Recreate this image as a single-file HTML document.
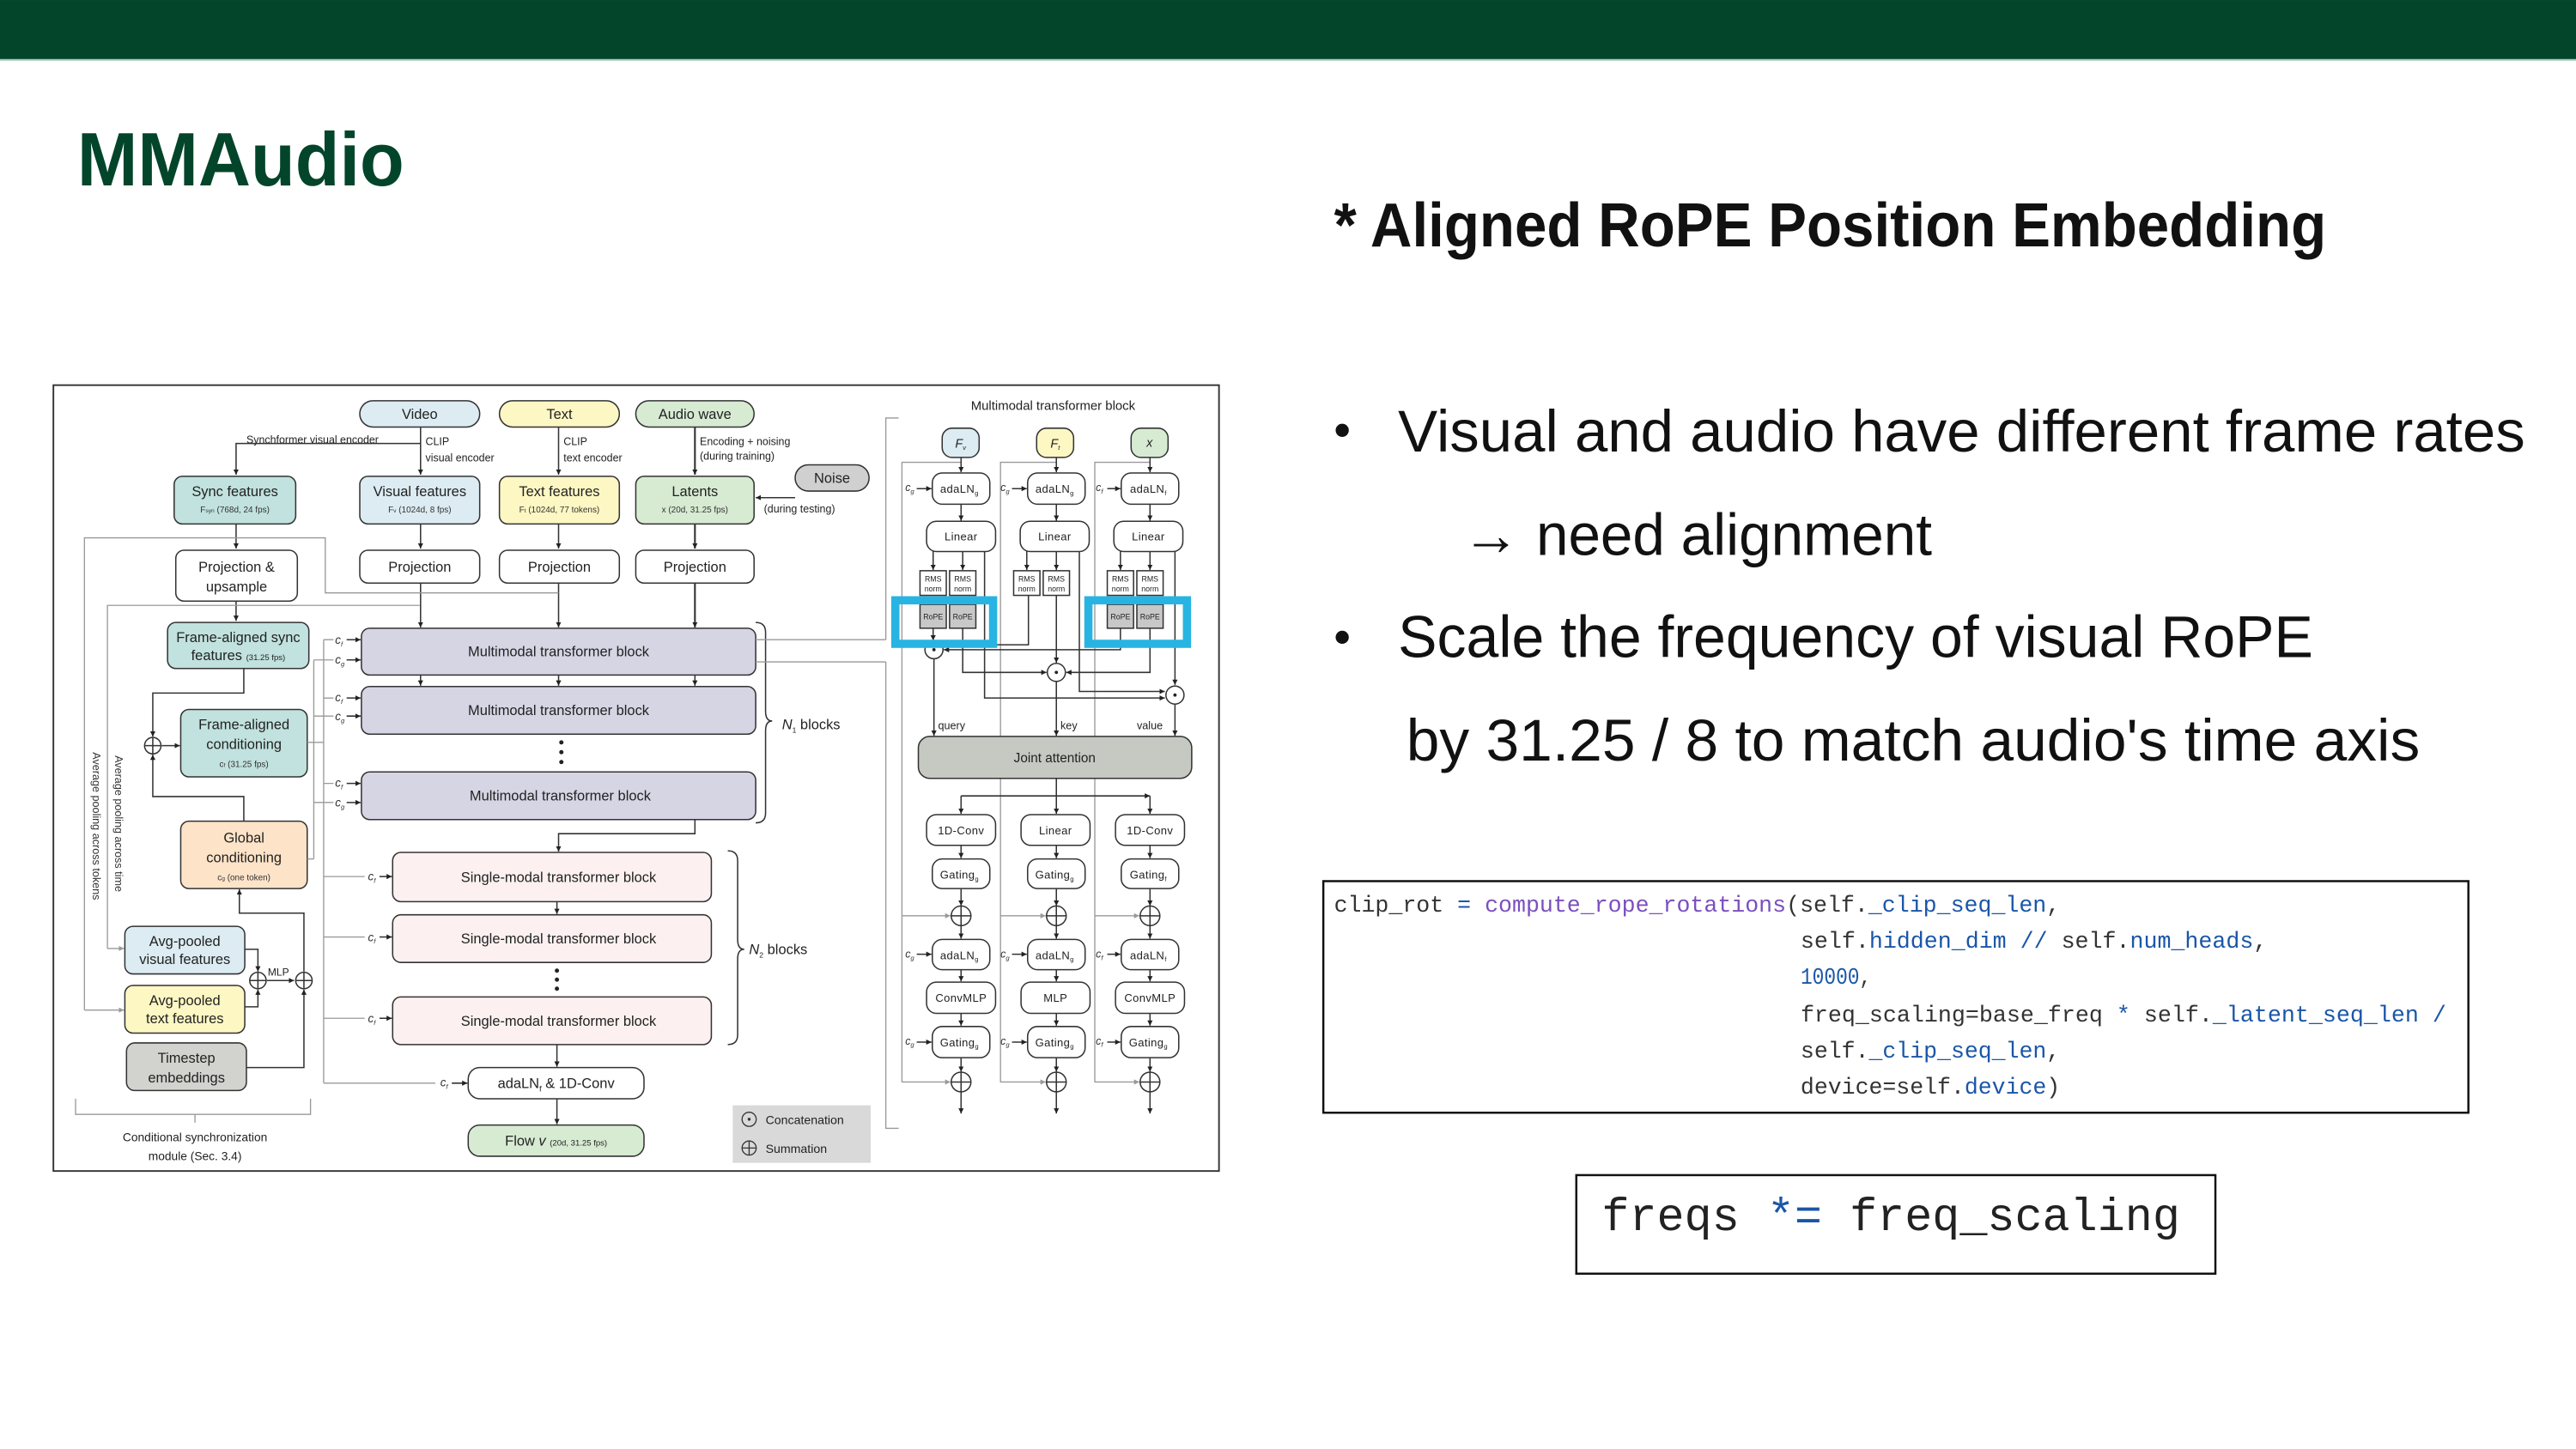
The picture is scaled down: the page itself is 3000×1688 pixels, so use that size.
<!DOCTYPE html>
<html><head><meta charset="utf-8"><style>
html,body{margin:0;padding:0;background:#fff;width:3000px;height:1688px;overflow:hidden}
svg{display:block}
text{font-family:"Liberation Sans",sans-serif}
.b{fill:none;stroke:#333;stroke-width:0.8}
.k{stroke:#333;stroke-width:0.8}
.g{fill:none;stroke:#999;stroke-width:0.7}
.t{font-size:8.6px;fill:#222;text-anchor:middle}
.s{font-size:5.2px;fill:#333;text-anchor:middle}
.r{font-size:6.8px;fill:#222;text-anchor:middle;letter-spacing:0.2px}
.m,.m text{font-family:"Liberation Mono",monospace}
</style></head><body>
<svg width="3000" height="1688" viewBox="0 0 1568 882.25" xmlns="http://www.w3.org/2000/svg">
<defs>
<marker id="a" viewBox="0 0 6 6" refX="6" refY="3" markerWidth="3.2" markerHeight="3.2" markerUnits="userSpaceOnUse" orient="auto"><path d="M0,0L6,3L0,6z" fill="#222"/></marker>
<marker id="ag" viewBox="0 0 6 6" refX="6" refY="3" markerWidth="3.2" markerHeight="3.2" markerUnits="userSpaceOnUse" orient="auto"><path d="M0,0L6,3L0,6z" fill="#999"/></marker>
</defs>
<rect x="0" y="0" width="1568" height="36" fill="#03452b"/>
<rect x="0" y="36" width="1568" height="1" fill="#a9cfc0"/>
<text x="47" y="113" font-size="46" font-weight="bold" fill="#03452b" textLength="199" lengthAdjust="spacingAndGlyphs">MMAudio</text>
<text x="812" y="150" font-size="38" font-weight="bold" fill="#111" textLength="604" lengthAdjust="spacingAndGlyphs">* Aligned RoPE Position Embedding</text>

<circle cx="817" cy="262" r="4" fill="#111"/>
<text x="851" y="275" font-size="36" fill="#111" textLength="686" lengthAdjust="spacingAndGlyphs">Visual and audio have different frame rates</text>
<text x="890" y="338" font-size="36" fill="#111" textLength="286" lengthAdjust="spacingAndGlyphs">→ need alignment</text>
<circle cx="817" cy="388" r="4" fill="#111"/>
<text x="851" y="400" font-size="36" fill="#111" textLength="557" lengthAdjust="spacingAndGlyphs">Scale the frequency of visual RoPE</text>
<text x="856" y="463" font-size="36" fill="#111" textLength="617" lengthAdjust="spacingAndGlyphs">by 31.25 / 8 to match audio's time axis</text>

<rect x="805.5" y="536.5" width="697" height="141" fill="#fff" stroke="#111" stroke-width="1.3"/>
<g class="m" font-size="14" fill="#333">
<text x="812" y="555" textLength="442" lengthAdjust="spacingAndGlyphs">clip_rot <tspan fill="#1a56a8">=</tspan> <tspan fill="#7b4fbf">compute_rope_rotations</tspan>(self.<tspan fill="#1a56a8">_clip_seq_len</tspan>,</text>
<text x="1096" y="577" textLength="284" lengthAdjust="spacingAndGlyphs">self.<tspan fill="#1a56a8">hidden_dim</tspan> <tspan fill="#1a56a8">//</tspan> self.<tspan fill="#1a56a8">num_heads</tspan>,</text>
<text x="1096" y="599" textLength="43" lengthAdjust="spacingAndGlyphs"><tspan fill="#1a56a8">10000</tspan>,</text>
<text x="1096" y="622" textLength="393" lengthAdjust="spacingAndGlyphs">freq_scaling=base_freq <tspan fill="#1a56a8">*</tspan> self.<tspan fill="#1a56a8">_latent_seq_len</tspan> <tspan fill="#1a56a8">/</tspan></text>
<text x="1096" y="644" textLength="158" lengthAdjust="spacingAndGlyphs">self.<tspan fill="#1a56a8">_clip_seq_len</tspan>,</text>
<text x="1096" y="666" textLength="158" lengthAdjust="spacingAndGlyphs">device=self.<tspan fill="#1a56a8">device</tspan>)</text>
</g>
<rect x="959.5" y="715.5" width="389" height="60" fill="#fff" stroke="#111" stroke-width="1.3"/>
<text class="m" x="975" y="749" font-size="28" fill="#222" textLength="352" lengthAdjust="spacingAndGlyphs">freqs <tspan fill="#1a56a8">*=</tspan> freq_scaling</text>

<!-- diagram -->
<rect x="32.5" y="234.5" width="709.5" height="478.5" fill="#fff" stroke="#333" stroke-width="1"/>

<rect x="219" y="244" width="73" height="16" rx="8" fill="#dcecf2" class="k"/><text class="t" x="255.5" y="255">Video</text>
<rect x="304" y="244" width="73" height="16" rx="8" fill="#fdf7c3" class="k"/><text class="t" x="340.5" y="255">Text</text>
<rect x="387" y="244" width="72" height="16" rx="8" fill="#d7ebd3" class="k"/><text class="t" x="423" y="255">Audio wave</text>
<rect x="484" y="283" width="45" height="16" rx="8" fill="#d0d0d0" class="k"/><text class="t" x="506.5" y="294">Noise</text>

<text x="150" y="270" font-size="6.5" fill="#222">Synchformer visual encoder</text>
<text x="259" y="271" font-size="6.5" fill="#222">CLIP</text><text x="259" y="281" font-size="6.5" fill="#222">visual encoder</text>
<text x="343" y="271" font-size="6.5" fill="#222">CLIP</text><text x="343" y="281" font-size="6.5" fill="#222">text encoder</text>
<text x="426" y="271" font-size="6.5" fill="#222">Encoding + noising</text><text x="426" y="280" font-size="6.5" fill="#222">(during training)</text>
<text x="465" y="312" font-size="6.5" fill="#222">(during testing)</text>

<rect x="106" y="290" width="74" height="29" rx="5" fill="#c1e2de" class="k"/><text class="t" x="143" y="302">Sync features</text><text class="s" x="143" y="312">F<tspan font-size="3.5">syn</tspan> (768d, 24 fps)</text>
<rect x="219" y="290" width="73" height="29" rx="5" fill="#dcecf2" class="k"/><text class="t" x="255.5" y="302">Visual features</text><text class="s" x="255.5" y="312">F<tspan font-size="3.5">v</tspan> (1024d, 8 fps)</text>
<rect x="304" y="290" width="73" height="29" rx="5" fill="#fdf7c3" class="k"/><text class="t" x="340.5" y="302">Text features</text><text class="s" x="340.5" y="312">F<tspan font-size="3.5">t</tspan> (1024d, 77 tokens)</text>
<rect x="387" y="290" width="72" height="29" rx="5" fill="#d7ebd3" class="k"/><text class="t" x="423" y="302">Latents</text><text class="s" x="423" y="312">x (20d, 31.25 fps)</text>

<rect x="107" y="335" width="74" height="31" rx="5" fill="#fff" class="k"/><text class="t" x="144" y="348">Projection &amp;</text><text class="t" x="144" y="360">upsample</text>
<rect x="219" y="335" width="73" height="20" rx="5" fill="#fff" class="k"/><text class="t" x="255.5" y="348">Projection</text>
<rect x="304" y="335" width="73" height="20" rx="5" fill="#fff" class="k"/><text class="t" x="340.5" y="348">Projection</text>
<rect x="387" y="335" width="72" height="20" rx="5" fill="#fff" class="k"/><text class="t" x="423" y="348">Projection</text>

<rect x="102" y="379" width="86" height="28" rx="5" fill="#c1e2de" class="k"/><text class="t" x="145" y="391">Frame-aligned sync</text><text class="t" x="145" y="402">features <tspan font-size="5">(31.25 fps)</tspan></text>
<rect x="110" y="432" width="77" height="41" rx="5" fill="#c1e2de" class="k"/><text class="t" x="148.5" y="444">Frame-aligned</text><text class="t" x="148.5" y="456">conditioning</text><text class="s" x="148.5" y="467">c<tspan font-size="3.5">f</tspan> (31.25 fps)</text>
<rect x="110" y="500" width="77" height="41" rx="5" fill="#fde3c8" class="k"/><text class="t" x="148.5" y="513">Global</text><text class="t" x="148.5" y="525">conditioning</text><text class="s" x="148.5" y="536">c<tspan font-size="3.5">g</tspan> (one token)</text>
<rect x="76" y="564" width="73" height="29" rx="5" fill="#dcecf2" class="k"/><text class="t" x="112.5" y="576">Avg-pooled</text><text class="t" x="112.5" y="587">visual features</text>
<rect x="76" y="600" width="73" height="29" rx="5" fill="#fdf7c3" class="k"/><text class="t" x="112.5" y="612">Avg-pooled</text><text class="t" x="112.5" y="623">text features</text>
<rect x="77" y="635" width="73" height="29" rx="5" fill="#d2d2cf" class="k"/><text class="t" x="113.5" y="647">Timestep</text><text class="t" x="113.5" y="659">embeddings</text>

<rect x="220" y="382.5" width="240" height="28.5" rx="5" fill="#d6d5e4" class="k"/><text class="t" x="340" y="399.5">Multimodal transformer block</text>
<rect x="220" y="418" width="240" height="29" rx="5" fill="#d6d5e4" class="k"/><text class="t" x="340" y="435.5">Multimodal transformer block</text>
<rect x="220" y="470" width="240" height="29" rx="5" fill="#d6d5e4" class="k"/><text class="t" x="341" y="487.5">Multimodal transformer block</text>
<circle cx="341.7" cy="452" r="1.3" fill="#222"/><circle cx="341.7" cy="458" r="1.3" fill="#222"/><circle cx="341.7" cy="464" r="1.3" fill="#222"/>
<rect x="239" y="519" width="194" height="30" rx="5" fill="#fcf0f0" class="k"/><text class="t" x="340" y="537">Single-modal transformer block</text>
<rect x="239" y="557" width="194" height="29" rx="5" fill="#fcf0f0" class="k"/><text class="t" x="340" y="574.5">Single-modal transformer block</text>
<rect x="239" y="607" width="194" height="29" rx="5" fill="#fcf0f0" class="k"/><text class="t" x="340" y="624.5">Single-modal transformer block</text>
<circle cx="339" cy="591" r="1.3" fill="#222"/><circle cx="339" cy="596.5" r="1.3" fill="#222"/><circle cx="339" cy="602" r="1.3" fill="#222"/>
<rect x="285" y="650" width="107" height="19" rx="7" fill="#fff" class="k"/><text class="t" x="338.5" y="662.5">adaLN<tspan font-size="5" dy="2">f</tspan><tspan dy="-2"> &amp; 1D-Conv</tspan></text>
<rect x="285" y="685" width="107" height="19" rx="7" fill="#d7ebd3" class="k"/><text class="t" x="338.5" y="697.5">Flow <tspan font-style="italic">v</tspan> <tspan font-size="5">(20d, 31.25 fps)</tspan></text>

<path class="b" d="M460,379 q6,0 6,6 v48 q0,6 4,6 q-4,0 -4,6 v50 q0,6 -6,6"/>
<text x="476" y="444" font-size="8.6" fill="#222"><tspan font-style="italic">N</tspan><tspan font-size="4.5" dy="2">1</tspan><tspan dy="-2"> blocks</tspan></text>
<path class="b" d="M443,518 q6,0 6,6 v48 q0,6 4,6 q-4,0 -4,6 v46 q0,6 -6,6"/>
<text x="456" y="581" font-size="8.6" fill="#222"><tspan font-style="italic">N</tspan><tspan font-size="4.5" dy="2">2</tspan><tspan dy="-2"> blocks</tspan></text>

<g class="b" marker-end="url(#a)">
<path d="M256,260V289"/><path d="M256,270H143.7V289"/>
<path d="M340,260V289"/><path d="M423,260V289" stroke-width="1.1"/>
<path d="M484,303H460"/>
<path d="M143.7,319V334"/><path d="M256,319V334"/><path d="M340,319V334"/><path d="M423,319V334" stroke-width="1.1"/>
<path d="M143.7,366V378"/>
<path d="M256,355V382"/><path d="M340,355V382"/><path d="M423,355V382" stroke-width="1.1"/>
<path d="M256,411V417.5"/><path d="M340,411V417.5"/><path d="M423,411V417.5"/>
<path d="M423,499V507.6H340V518.5"/>
<path d="M339,549V556.5"/><path d="M339,636V649.5"/><path d="M339,669V684.5"/>
<path d="M148.4,407V422H93V448.5"/>
<path d="M148.4,500V485H93V459.5"/>
<path d="M98.5,454H109.5"/>
<path d="M149,578H157V591.5"/><path d="M149,613H157V602.5"/>
<path d="M162.5,597H179"/>
<path d="M150,650H185V602.5"/>
<path d="M185,591.5V556H145.7V541.5"/>
</g>
<circle cx="93" cy="454" r="5" fill="#fff" class="k"/><path class="b" d="M88,454h10M93,449v10"/>
<circle cx="157" cy="597" r="5" fill="#fff" class="k"/><path class="b" d="M152,597h10M157,592v10"/>
<circle cx="185" cy="597" r="5" fill="#fff" class="k"/><path class="b" d="M180,597h10M185,592v10"/>
<text x="163" y="594" font-size="6.3" fill="#222">MLP</text>

<g class="g">
<path d="M51.4,615V327.5H198V361H340"/><path d="M65.4,577.5V368.6H255.4"/>
<path d="M187,452H197"/><path d="M197,389.5V659.5"/>
<path d="M187,523H191"/><path d="M191,401.8V523"/>
<path d="M197,389.5H203M191,401.8H203M197,425H203M191,436H203M197,477H203M191,488.6H203"/>
<path d="M197,533.7H222M197,570.5H222M197,620H222M197,659.5H265"/>
<path d="M460,389.5H539.2M460,403H539.2"/>
<path d="M547,254.5H539.2V389.5M539.2,403V687H547"/>
<path d="M46,669v9.5h143v-9.5M118.7,678.5v5"/>
</g>
<g class="g" marker-end="url(#ag)"><path d="M51.4,615H75.5"/><path d="M65.4,577.5H75.5"/></g>
<g font-size="7" fill="#333" font-style="italic">
<text x="204" y="392">c<tspan font-size="4" dy="1.5">f</tspan></text><text x="204" y="404">c<tspan font-size="4" dy="1.5">g</tspan></text>
<text x="204" y="427">c<tspan font-size="4" dy="1.5">f</tspan></text><text x="204" y="438.5">c<tspan font-size="4" dy="1.5">g</tspan></text>
<text x="204" y="479">c<tspan font-size="4" dy="1.5">f</tspan></text><text x="204" y="491">c<tspan font-size="4" dy="1.5">g</tspan></text>
<text x="224" y="536">c<tspan font-size="4" dy="1.5">f</tspan></text><text x="224" y="573">c<tspan font-size="4" dy="1.5">f</tspan></text><text x="224" y="622.5">c<tspan font-size="4" dy="1.5">f</tspan></text>
<text x="268" y="661.5">c<tspan font-size="4" dy="1.5">f</tspan></text>
</g>
<g class="b" marker-end="url(#a)">
<path d="M211,389.5H219.5"/><path d="M211,401.8H219.5"/><path d="M211,425H219.5"/><path d="M211,436H219.5"/><path d="M211,477H219.5"/><path d="M211,488.6H219.5"/>
<path d="M231,533.7H238.5"/><path d="M231,570.5H238.5"/><path d="M231,620H238.5"/><path d="M275,659.5H284.5"/>
</g>
<text x="56.4" y="458" font-size="6.6" fill="#333" transform="rotate(90 56.4 458)">Average pooling across tokens</text>
<text x="70" y="460" font-size="6.6" fill="#333" transform="rotate(90 70 460)">Average pooling across time</text>
<text x="118.7" y="695" font-size="7.2" fill="#222" text-anchor="middle">Conditional synchronization</text>
<text x="118.7" y="706.5" font-size="7.2" fill="#222" text-anchor="middle">module (Sec. 3.4)</text>

<rect x="446" y="673" width="84" height="35" fill="#d9d9d9"/>
<circle cx="456" cy="681.5" r="4.3" fill="none" stroke="#333" stroke-width="0.7"/><circle cx="456" cy="681.5" r="0.9" fill="#333"/>
<text x="466" y="684.5" font-size="7.4" fill="#222">Concatenation</text>
<circle cx="456" cy="699" r="4.3" fill="none" stroke="#333" stroke-width="0.7"/><path d="M451.7,699h8.6M456,694.7v8.6" stroke="#333" stroke-width="0.7"/>
<text x="466" y="702" font-size="7.4" fill="#222">Summation</text>

<text x="641" y="249.5" font-size="7.8" fill="#222" text-anchor="middle">Multimodal transformer block</text>
<g class="g"><path d="M549,659V281.5H585"/><path d="M609,659V281.5H643"/><path d="M666.4,659V281.5H700"/></g>
<rect x="573.5" y="260.7" width="22.5" height="17.8" rx="6" fill="#dcecf2" class="k"/><text x="584.7" y="272.5" font-size="7.5" font-style="italic" text-anchor="middle" fill="#222">F<tspan font-size="4" dy="1.5">v</tspan></text>
<rect x="631" y="260.7" width="22.5" height="17.8" rx="6" fill="#fdf7c3" class="k"/><text x="642.3" y="272.5" font-size="7.5" font-style="italic" text-anchor="middle" fill="#222">F<tspan font-size="4" dy="1.5">t</tspan></text>
<rect x="688.5" y="260.7" width="22.5" height="17.8" rx="6" fill="#d7ebd3" class="k"/><text x="699.7" y="272" font-size="7.5" font-style="italic" text-anchor="middle" fill="#222">x</text>

<g fill="#fff" class="k">
<rect x="567.5" y="288" width="35" height="19" rx="6"/><rect x="625.5" y="288" width="35" height="19" rx="6"/><rect x="682.5" y="288" width="35" height="19" rx="6"/>
<rect x="564" y="317.4" width="42" height="18.4" rx="6"/><rect x="621" y="317.4" width="42" height="18.4" rx="6"/><rect x="678" y="317.4" width="42" height="18.4" rx="6"/>
<rect x="560" y="347.5" width="16" height="15"/><rect x="578" y="347.5" width="16" height="15"/>
<rect x="617" y="347.5" width="16" height="15"/><rect x="635" y="347.5" width="16" height="15"/>
<rect x="674" y="347.5" width="16" height="15"/><rect x="692" y="347.5" width="16" height="15"/>
<rect x="560" y="368" width="16" height="14.5" fill="#c8c8c8"/><rect x="578" y="368" width="16" height="14.5" fill="#c8c8c8"/>
<rect x="674" y="368" width="16" height="14.5" fill="#c8c8c8"/><rect x="692" y="368" width="16" height="14.5" fill="#c8c8c8"/>
<rect x="564" y="496" width="42" height="18.7" rx="6"/><rect x="621.5" y="496" width="42" height="18.7" rx="6"/><rect x="679" y="496" width="42" height="18.7" rx="6"/>
<rect x="567.5" y="523" width="35" height="18" rx="6"/><rect x="625.5" y="523" width="35" height="18" rx="6"/><rect x="682.5" y="523" width="35" height="18" rx="6"/>
<rect x="567.5" y="572" width="35" height="18.4" rx="6"/><rect x="625.5" y="572" width="35" height="18.4" rx="6"/><rect x="682.5" y="572" width="35" height="18.4" rx="6"/>
<rect x="564" y="598" width="42" height="19" rx="6"/><rect x="621.5" y="598" width="42" height="19" rx="6"/><rect x="679" y="598" width="42" height="19" rx="6"/>
<rect x="567.5" y="625" width="35" height="19" rx="6"/><rect x="625.5" y="625" width="35" height="19" rx="6"/><rect x="682.5" y="625" width="35" height="19" rx="6"/>
</g>
<g class="r">
<text x="584" y="300">adaLN<tspan font-size="4" dy="1.5">g</tspan></text><text x="642" y="300">adaLN<tspan font-size="4" dy="1.5">g</tspan></text><text x="699" y="300">adaLN<tspan font-size="4" dy="1.5">f</tspan></text>
<text x="585" y="329">Linear</text><text x="642" y="329">Linear</text><text x="699" y="329">Linear</text>
<text x="585" y="508">1D-Conv</text><text x="642.5" y="508">Linear</text><text x="700" y="508">1D-Conv</text>
<text x="584" y="535">Gating<tspan font-size="4" dy="1.5">g</tspan></text><text x="642" y="535">Gating<tspan font-size="4" dy="1.5">g</tspan></text><text x="699" y="535">Gating<tspan font-size="4" dy="1.5">f</tspan></text>
<text x="584" y="584">adaLN<tspan font-size="4" dy="1.5">g</tspan></text><text x="642" y="584">adaLN<tspan font-size="4" dy="1.5">g</tspan></text><text x="699" y="584">adaLN<tspan font-size="4" dy="1.5">f</tspan></text>
<text x="585" y="610">ConvMLP</text><text x="642.5" y="610">MLP</text><text x="700" y="610">ConvMLP</text>
<text x="584" y="637">Gating<tspan font-size="4" dy="1.5">g</tspan></text><text x="642" y="637">Gating<tspan font-size="4" dy="1.5">g</tspan></text><text x="699" y="637">Gating<tspan font-size="4" dy="1.5">g</tspan></text>
</g>
<g font-size="4.6" fill="#222" text-anchor="middle">
<text x="568" y="354">RMS</text><text x="568" y="360">norm</text><text x="586" y="354">RMS</text><text x="586" y="360">norm</text>
<text x="625" y="354">RMS</text><text x="625" y="360">norm</text><text x="643" y="354">RMS</text><text x="643" y="360">norm</text>
<text x="682" y="354">RMS</text><text x="682" y="360">norm</text><text x="700" y="354">RMS</text><text x="700" y="360">norm</text>
<text x="568" y="377">RoPE</text><text x="586" y="377">RoPE</text><text x="682" y="377">RoPE</text><text x="700" y="377">RoPE</text>
</g>
<g font-size="6.5" fill="#333" font-style="italic">
<text x="551" y="299">c<tspan font-size="4" dy="1.5">g</tspan></text><text x="609" y="299">c<tspan font-size="4" dy="1.5">g</tspan></text><text x="667" y="299">c<tspan font-size="4" dy="1.5">f</tspan></text>
<text x="551" y="583">c<tspan font-size="4" dy="1.5">g</tspan></text><text x="609" y="583">c<tspan font-size="4" dy="1.5">g</tspan></text><text x="667" y="583">c<tspan font-size="4" dy="1.5">f</tspan></text>
<text x="551" y="636">c<tspan font-size="4" dy="1.5">g</tspan></text><text x="609" y="636">c<tspan font-size="4" dy="1.5">g</tspan></text><text x="667" y="636">c<tspan font-size="4" dy="1.5">f</tspan></text>
</g>
<g class="b" marker-end="url(#a)">
<path d="M585,278.5V287.5"/><path d="M643,278.5V287.5"/><path d="M700,278.5V287.5"/>
<path d="M558,297.5H567"/><path d="M616,297.5H625"/><path d="M674,297.5H682"/>
<path d="M585,307V317"/><path d="M643,307V317"/><path d="M700,307V317"/>
<path d="M568,335.8V347"/><path d="M586,335.8V347"/><path d="M625,335.8V347"/><path d="M643,335.8V347"/><path d="M682,335.8V347"/><path d="M700,335.8V347"/>
<path d="M568,382.5V390"/>
<path d="M682,382.5V395.6H574.5"/>
<path d="M586,382.5V409.4H637"/><path d="M643,362.5V403.5"/><path d="M700,382.5V409.4H649"/>
<path d="M599.3,335.8V425H709"/><path d="M657,335.8V421H709"/><path d="M715.2,335.8V417"/>
<path d="M568.5,401V448"/><path d="M643,415V448"/><path d="M715.2,429V448"/>
<path d="M643,474V495.5"/><path d="M585,484.6H700"/><path d="M585,484.6V495.5"/><path d="M700,484.6V495.5"/>
<path d="M585,514.7V522.5"/><path d="M643,514.7V522.5"/><path d="M700,514.7V522.5"/>
<path d="M585,541V551.5"/><path d="M643,541V551.5"/><path d="M700,541V551.5"/>
<path d="M585,563.6V571.5"/><path d="M643,563.6V571.5"/><path d="M700,563.6V571.5"/>
<path d="M558,581H567"/><path d="M616,581H625"/><path d="M674,581H682"/>
<path d="M585,590.4V597.5"/><path d="M643,590.4V597.5"/><path d="M700,590.4V597.5"/>
<path d="M585,617V624.5"/><path d="M643,617V624.5"/><path d="M700,617V624.5"/>
<path d="M558,634.5H567"/><path d="M616,634.5H625"/><path d="M674,634.5H682"/>
<path d="M585,644V652.5"/><path d="M643,644V652.5"/><path d="M700,644V652.5"/>
<path d="M585,664.8V678"/><path d="M643,664.8V678"/><path d="M700,664.8V678"/>
</g>
<path class="b" d="M626,362.5V392.6H599"/>
<g class="g" marker-end="url(#ag)">
<path d="M549,557.6H578.5"/><path d="M609,557.6H636.5"/><path d="M666.4,557.6H693.5"/>
<path d="M549,658.8H578.5"/><path d="M609,658.8H636.5"/><path d="M666.4,658.8H693.5"/>
</g>
<g fill="#fff" class="k">
<circle cx="568.5" cy="395.6" r="5.5"/><circle cx="643" cy="409.4" r="5.5"/><circle cx="715.2" cy="423.2" r="5.5"/>
<circle cx="585" cy="557.6" r="6"/><circle cx="643" cy="557.6" r="6"/><circle cx="700" cy="557.6" r="6"/>
<circle cx="585" cy="658.8" r="6"/><circle cx="643" cy="658.8" r="6"/><circle cx="700" cy="658.8" r="6"/>
</g>
<g fill="#222"><circle cx="568.5" cy="395.6" r="1"/><circle cx="643" cy="409.4" r="1"/><circle cx="715.2" cy="423.2" r="1"/></g>
<path class="b" d="M579,557.6h12M637,557.6h12M694,557.6h12M579,658.8h12M637,658.8h12M694,658.8h12M585,551.6v12M643,551.6v12M700,551.6v12M585,652.8v12M643,652.8v12M700,652.8v12"/>
<g font-size="6.6" fill="#222"><text x="571" y="444">query</text><text x="645.5" y="444">key</text><text x="692" y="444">value</text></g>
<rect x="559" y="448.4" width="166.4" height="25.5" rx="7" fill="#c5c9c1" class="k"/>
<text x="642" y="464" font-size="8" fill="#222" text-anchor="middle">Joint attention</text>

<rect x="545" y="365.5" width="59.5" height="26.5" fill="none" stroke="#28b4e2" stroke-width="5"/>
<rect x="662.5" y="365.5" width="60" height="26.5" fill="none" stroke="#28b4e2" stroke-width="5"/>
</svg>
</body></html>
